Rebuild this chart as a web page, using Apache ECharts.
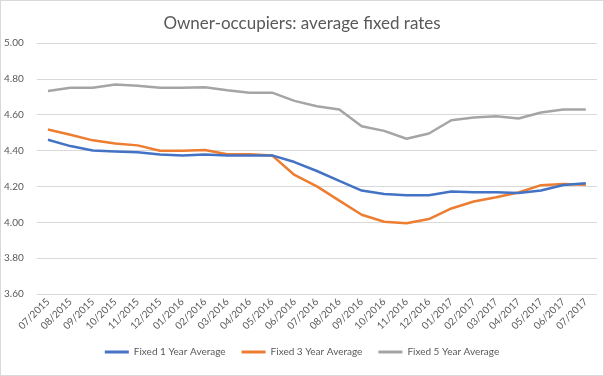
<!DOCTYPE html>
<html>
<head>
<meta charset="utf-8">
<script src="https://cdn.jsdelivr.net/npm/echarts@6/dist/echarts.min.js"></script>
<style>
html,body{margin:0;padding:0;background:#fff;}
#c{width:602px;height:374px;border:1px solid #d9d9d9;}
</style>
</head>
<body>
<div id="c"></div>
<script>
const categories = ['07/2015','08/2015','09/2015','10/2015','11/2015','12/2015','01/2016','02/2016','03/2016','04/2016','05/2016','06/2016','07/2016','08/2016','09/2016','10/2016','11/2016','12/2016','01/2017','02/2017','03/2017','04/2017','05/2017','06/2017','07/2017'];
const fixed1 = [4.46,4.425,4.40,4.395,4.39,4.378,4.372,4.378,4.372,4.372,4.373,4.336,4.286,4.231,4.177,4.158,4.151,4.151,4.172,4.167,4.167,4.164,4.177,4.208,4.218];
const fixed3 = [4.518,4.488,4.457,4.44,4.429,4.399,4.399,4.403,4.38,4.38,4.373,4.264,4.20,4.121,4.042,4.003,3.995,4.018,4.077,4.116,4.14,4.166,4.207,4.213,4.21];
const fixed5 = [4.732,4.751,4.751,4.768,4.762,4.751,4.751,4.753,4.736,4.723,4.723,4.677,4.647,4.629,4.536,4.51,4.466,4.495,4.569,4.584,4.592,4.579,4.612,4.629,4.629];
const seriesNames = ['Fixed 1 Year Average','Fixed 3 Year Average','Fixed 5 Year Average'];
const yTicks = {min:3.6, max:5.0, interval:0.2};

const chart = echarts.init(document.getElementById('c'));
const font = 'Lato, "Noto Sans", sans-serif';
const colors = ['#4472C4','#ED7D31','#A5A5A5'];
chart.setOption({
  animation:false,
  color:colors,
  title:{text:'Owner-occupiers: average fixed rates',left:'center',top:9,
    textStyle:{fontFamily:font,fontSize:17,fontWeight:'normal',color:'#595959'}},
  grid:{left:33,right:6,top:42,bottom:81},
  legend:{bottom:13,left:'center',icon:'rect',itemWidth:24,itemHeight:3,itemGap:16,
    textStyle:{fontFamily:font,fontSize:10,color:'#595959'},data:seriesNames},
  xAxis:{type:'category',data:categories,boundaryGap:true,
    axisLine:{show:false},axisTick:{show:false},
    axisLabel:{rotate:45,fontFamily:font,fontSize:10,color:'#595959',margin:6,interval:0}},
  yAxis:{type:'value',min:yTicks.min,max:yTicks.max,interval:yTicks.interval,
    axisLine:{show:false},axisTick:{show:false},
    splitLine:{lineStyle:{color:'#d9d9d9',width:1}},
    axisLabel:{fontFamily:font,fontSize:10,color:'#595959',margin:13,formatter:v=>v.toFixed(2)}},
  series:[fixed1,fixed3,fixed5].map((d,i)=>({
    name:seriesNames[i],type:'line',data:d,showSymbol:false,symbol:'none',
    lineStyle:{width:2.5,color:colors[i]},z:3-i
  }))
});
</script>
</body>
</html>
